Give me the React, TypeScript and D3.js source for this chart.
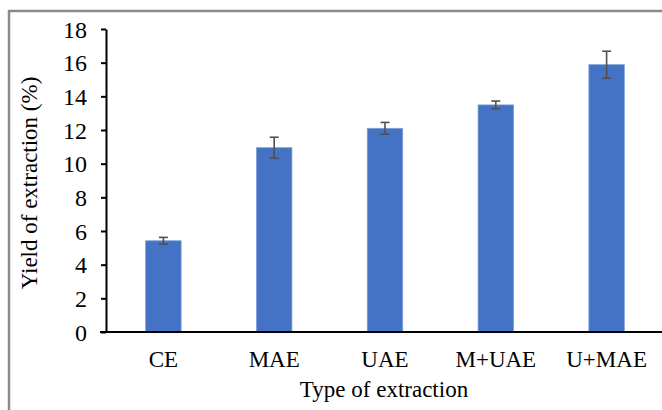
import { useEffect, useRef } from 'react';
import * as d3 from 'd3';

const categories = ['CE', 'MAE', 'UAE', 'M+UAE', 'U+MAE'];
const yields = [5.42, 10.95, 12.1, 13.49, 15.88];
const errors = [0.2, 0.62, 0.35, 0.23, 0.8];
const yTicks = [0, 2, 4, 6, 8, 10, 12, 14, 16, 18];

const W = 662;
const H = 410;
const FONT = "'Liberation Serif', 'Times New Roman', Times, serif";

export default function App() {
  const svgRef = useRef<SVGSVGElement>(null);

  useEffect(() => {
    if (!svgRef.current) return;
    const svg = d3.select(svgRef.current);
    svg.selectAll('*').remove();

    const x0 = 106;
    const yTop = 29;
    const yBottom = 332;

    // outer frame (cut off at right and bottom)
    svg
      .append('rect')
      .attr('x', 9)
      .attr('y', 11)
      .attr('width', W + 20)
      .attr('height', H + 20)
      .attr('fill', 'white')
      .attr('stroke', '#8a8a8a')
      .attr('stroke-width', 2.5);

    const x = d3.scaleBand().domain(categories).range([x0 + 2, W]).paddingInner(0.68).paddingOuter(0.34);
    const y = d3.scaleLinear().domain([0, 18]).range([yBottom, yTop]);

    const g = svg.append('g');

    // bars
    g.selectAll('rect.bar')
      .data(categories)
      .join('rect')
      .attr('class', 'bar')
      .attr('x', (d) => x(d)!)
      .attr('y', (d, i) => y(yields[i]))
      .attr('width', x.bandwidth())
      .attr('height', (d, i) => y(0) - y(yields[i]))
      .attr('fill', '#4472C4')
      .attr('stroke', '#7f9fd6')
      .attr('stroke-width', 0.8);

    // error bars
    const cx = (d: string) => x(d)! + x.bandwidth() / 2;
    const eb = g
      .selectAll('g.err')
      .data(categories)
      .join('g')
      .attr('class', 'err')
      .attr('stroke', '#505050')
      .attr('stroke-width', 1.6);
    eb.append('line')
      .attr('x1', cx)
      .attr('x2', cx)
      .attr('y1', (d, i) => y(yields[i] + errors[i]))
      .attr('y2', (d, i) => y(yields[i] - errors[i]));
    eb.append('line')
      .attr('x1', (d) => cx(d) - 4.5)
      .attr('x2', (d) => cx(d) + 4.5)
      .attr('y1', (d, i) => y(yields[i] + errors[i]))
      .attr('y2', (d, i) => y(yields[i] + errors[i]));
    eb.append('line')
      .attr('x1', (d) => cx(d) - 4.5)
      .attr('x2', (d) => cx(d) + 4.5)
      .attr('y1', (d, i) => y(yields[i] - errors[i]))
      .attr('y2', (d, i) => y(yields[i] - errors[i]));

    // y axis
    const yAxis = g
      .append('g')
      .attr('transform', `translate(${x0},0)`)
      .call(d3.axisLeft(y).tickValues(yTicks).tickSize(5).tickSizeOuter(0).tickPadding(14));
    yAxis.attr('font-family', null);
    yAxis.select('.domain').attr('stroke', '#000').attr('stroke-width', 2);
    yAxis.selectAll('.tick line').attr('stroke', '#000').attr('stroke-width', 2);
    yAxis
      .selectAll('.tick text')
      .attr('fill', '#000')
      .style('font-family', FONT)
      .style('font-size', '24px')
      .attr('dy', '0.34em');

    // x axis
    const xAxis = g
      .append('g')
      .attr('transform', `translate(0,${yBottom})`)
      .call(d3.axisBottom(x).tickSize(0).tickPadding(19));
    xAxis.attr('font-family', null);
    xAxis.select('.domain').attr('d', `M${x0 - 6},0H${W}`).attr('stroke', '#000').attr('stroke-width', 2);
    xAxis
      .selectAll('.tick text')
      .attr('fill', '#000')
      .style('font-family', FONT)
      .style('font-size', '23px');

    // titles
    svg
      .append('text')
      .attr('x', 384)
      .attr('y', 397)
      .attr('text-anchor', 'middle')
      .style('font-family', FONT)
      .style('font-size', '23px')
      .attr('fill', '#000')
      .text('Type of extraction');

    svg
      .append('text')
      .attr('transform', 'translate(37,183) rotate(-90)')
      .attr('text-anchor', 'middle')
      .style('font-family', FONT)
      .style('font-size', '23px')
      .attr('fill', '#000')
      .text('Yield of extraction (%)');
  }, []);

  return (
    <svg
      ref={svgRef}
      width={W}
      height={H}
      style={{ position: 'absolute', left: 0, top: 0, background: '#fff' }}
    />
  );
}
